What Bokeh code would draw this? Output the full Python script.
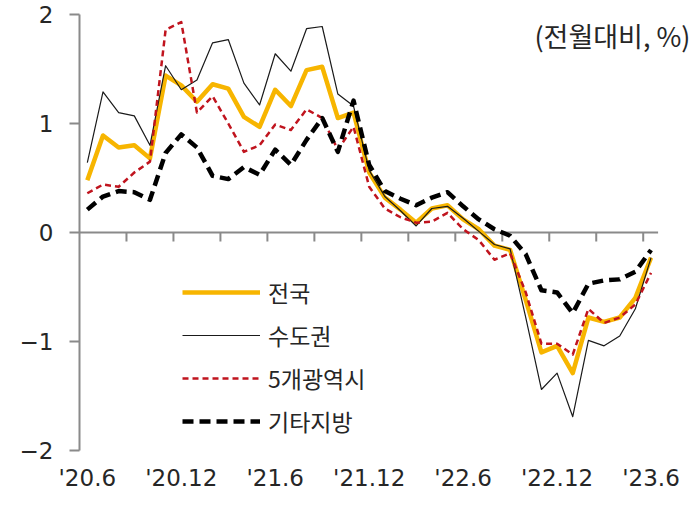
from bokeh.plotting import figure
from bokeh.models import Range1d, FixedTicker, Label, Legend, LegendItem
from bokeh.embed import file_html
from bokeh.resources import INLINE

months = ["'20.6", "'20.7", "'20.8", "'20.9", "'20.10", "'20.11", "'20.12",
          "'21.1", "'21.2", "'21.3", "'21.4", "'21.5", "'21.6", "'21.7", "'21.8",
          "'21.9", "'21.10", "'21.11", "'21.12", "'22.1", "'22.2", "'22.3", "'22.4",
          "'22.5", "'22.6", "'22.7", "'22.8", "'22.9", "'22.10", "'22.11", "'22.12",
          "'23.1", "'23.2", "'23.3", "'23.4", "'23.5", "'23.6"]

tick_labels = ["'20.6", "'20.12", "'21.6", "'21.12", "'22.6", "'22.12", "'23.6"]

nation = [0.48, 0.89, 0.78, 0.80, 0.68, 1.44, 1.35, 1.20, 1.36, 1.32, 1.06, 0.97,
          1.31, 1.16, 1.49, 1.52, 1.05, 1.10, 0.55, 0.32, 0.21, 0.09, 0.22, 0.25,
          0.12, 0.03, -0.12, -0.16, -0.62, -1.10, -1.04, -1.29, -0.78, -0.82, -0.78,
          -0.60, -0.23]
capital = [0.64, 1.29, 1.10, 1.07, 0.80, 1.53, 1.31, 1.40, 1.74, 1.77, 1.37, 1.17,
           1.64, 1.48, 1.87, 1.89, 1.27, 1.16, 0.57, 0.33, 0.20, 0.06, 0.22, 0.24,
           0.13, 0.01, -0.11, -0.15, -0.78, -1.44, -1.29, -1.69, -0.99, -1.04, -0.95,
           -0.70, -0.23]
metro5 = [0.36, 0.44, 0.42, 0.55, 0.65, 1.86, 1.93, 1.10, 1.25, 1.00, 0.74, 0.80,
          0.99, 0.94, 1.13, 1.05, 0.76, 0.97, 0.42, 0.22, 0.14, 0.09, 0.10, 0.18,
          0.03, -0.07, -0.25, -0.19, -0.55, -1.02, -1.02, -1.12, -0.70, -0.83, -0.78,
          -0.66, -0.37]
other = [0.21, 0.33, 0.38, 0.37, 0.30, 0.73, 0.90, 0.78, 0.52, 0.49, 0.60, 0.53,
         0.76, 0.62, 0.85, 1.05, 0.74, 1.21, 0.62, 0.38, 0.31, 0.25, 0.32, 0.37,
         0.24, 0.12, 0.03, -0.03, -0.20, -0.53, -0.55, -0.74, -0.47, -0.44, -0.43,
         -0.36, -0.16]

series_names = ["전국", "수도권", "5개광역시", "기타지방"]
y_ticks = [-2, -1, 0, 1, 2]
y_tick_labels = ["\u22122", "\u22121", "0", "1", "2"]
unit_text = "(전월대비, %)"

FONT = "Noto Sans CJK KR"
NUM_FONT = "DejaVu Sans"
TEXT_COLOR = "#262626"
AXIS_COLOR = "#8a8a8a"

x = list(range(len(months)))
n = len(months)

p = figure(width=690, height=507, output_backend="svg", toolbar_location=None,
           x_range=Range1d(-0.5, 38.52), y_range=Range1d(-2, 2),
           min_border_left=79, min_border_right=0, min_border_top=14,
           min_border_bottom=57)
p.outline_line_color = None
p.xgrid.visible = False
p.ygrid.visible = False

# left axis
yax = p.yaxis[0]
yax.ticker = FixedTicker(ticks=y_ticks)
yax.major_label_overrides = {t: l for t, l in zip(y_ticks, y_tick_labels)}
yax.axis_line_color = AXIS_COLOR
yax.axis_line_width = 2
yax.major_tick_line_color = AXIS_COLOR
yax.major_tick_line_width = 2
yax.major_tick_out = 10
yax.major_tick_in = 0
yax.minor_tick_line_color = None
yax.major_label_standoff = 16
yax.major_label_text_font = NUM_FONT
yax.major_label_text_font_size = "23px"
yax.major_label_text_color = TEXT_COLOR

# bottom axis: labels only
xax = p.xaxis[0]
tick_pos = [months.index(t) for t in tick_labels]
xax.ticker = FixedTicker(ticks=tick_pos)
xax.major_label_overrides = {i: months[i] for i in tick_pos}
xax.axis_line_color = None
xax.major_tick_line_color = None
xax.minor_tick_line_color = None
xax.major_tick_out = 0
xax.major_tick_in = 0
xax.major_label_standoff = 14
xax.major_label_text_font = NUM_FONT
xax.major_label_text_font_size = "23px"
xax.major_label_text_color = TEXT_COLOR

# zero axis line with tick marks every 3 months (between months)
p.segment(x0=[-0.5], y0=[0], x1=[n - 1 + 0.45], y1=[0],
          line_color=AXIS_COLOR, line_width=2)
zero_ticks = [i + 0.5 for i in range(2, n, 3)]
p.ray(x=zero_ticks, y=[0] * len(zero_ticks), length=9, length_units="screen",
      angle=-1.5707963, line_color=AXIS_COLOR, line_width=2)

r1 = p.line(x, nation, line_color="#F7B500", line_width=4.5, line_join="round")
r2 = p.line(x, capital, line_color="#1a1a1a", line_width=1.2, line_join="round")
r3 = p.line(x, metro5, line_color="#C0141E", line_width=2.5, line_dash="6 4",
            line_join="round")
r4 = p.line(x, other, line_color="#000000", line_width=4.5, line_dash="11 6",
            line_join="round")

legend = Legend(items=[LegendItem(label=nm, renderers=[r])
                       for nm, r in zip(series_names, [r1, r2, r3, r4])],
                location=(103, 12))
legend.background_fill_alpha = 0
legend.border_line_color = None
legend.padding = 0
legend.margin = 0
legend.spacing = 9
legend.glyph_width = 78
legend.glyph_height = 22
legend.label_height = 22
legend.label_standoff = 8
legend.label_text_font = FONT
legend.label_text_font_size = "23px"
legend.label_text_color = TEXT_COLOR
p.add_layout(legend)

p.add_layout(Label(x=38.52, y=1.81, text=unit_text, text_align="right",
                   text_baseline="middle", text_font=FONT,
                   text_font_size="27px", text_color=TEXT_COLOR))

open("out.html", "w").write(file_html(p, INLINE))
